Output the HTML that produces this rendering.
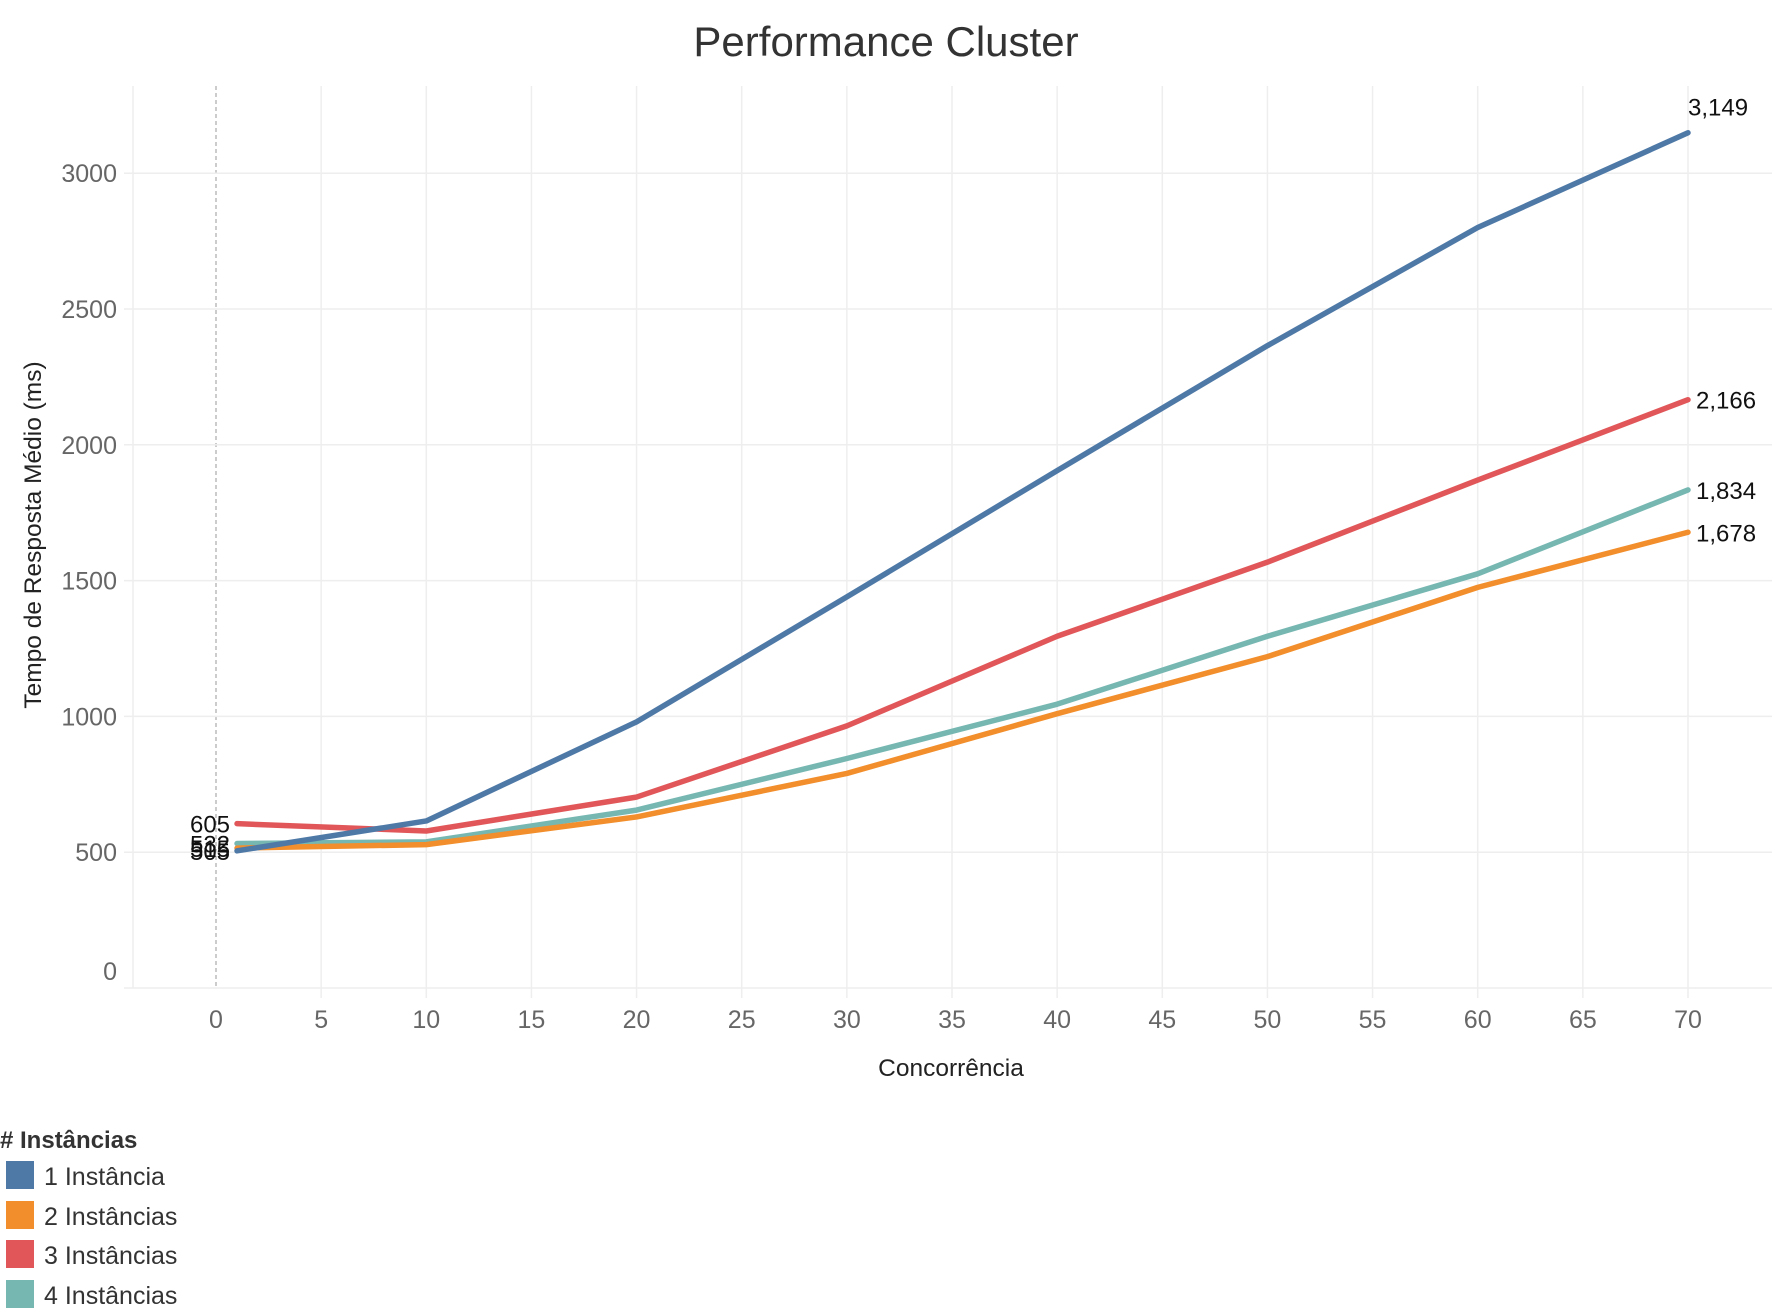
<!DOCTYPE html>
<html><head><meta charset="utf-8"><style>
body{margin:0;background:#fff;font-family:"Liberation Sans","DejaVu Sans",sans-serif}
svg{display:block}
</style></head><body>
<svg id="c" width="1772" height="1314" viewBox="0 0 1772 1314">
<text x="886" y="56" text-anchor="middle" font-size="42" fill="#333">Performance Cluster</text>
<g id="grid"></g>
<g id="series"></g>
<g id="labels"></g>
<text transform="translate(41,535) rotate(-90)" text-anchor="middle" font-size="24.5" fill="#222">Tempo de Resposta Médio (ms)</text>
<text x="951" y="1076" text-anchor="middle" font-size="24.5" fill="#222">Concorrência</text>
<g>
<text x="0" y="1148" font-size="24" font-weight="bold" fill="#333"># Instâncias</text>
<g><rect x="6" y="1161" width="28" height="28" fill="#4e79a7"/><text x="44" y="1185" font-size="25" fill="#333">1 Instância</text></g>
<g><rect x="6" y="1201" width="28" height="28" fill="#f28e2b"/><text x="44" y="1225" font-size="25" fill="#333">2 Instâncias</text></g>
<g><rect x="6" y="1240" width="28" height="28" fill="#e15759"/><text x="44" y="1264" font-size="25" fill="#333">3 Instâncias</text></g>
<g><rect x="6" y="1280" width="28" height="28" fill="#76b7b2"/><text x="44" y="1304" font-size="25" fill="#333">4 Instâncias</text></g>
</g>
</svg>
<script>
const xs = [1,10,20,30,40,50,60,70];
const s1 = [505,615,980,1440,1905,2365,2800,3149];
const s2 = [515,528,630,790,1010,1220,1475,1678];
const s3 = [605,578,703,965,1295,1568,1870,2166];
const s4 = [532,538,655,845,1045,1295,1525,1834];
const xTicks = [0,5,10,15,20,25,30,35,40,45,50,55,60,65,70];
const yTicks = [0,500,1000,1500,2000,2500,3000];
const NS="http://www.w3.org/2000/svg";
const X=v=>216+(1688-216)*v/70;
const Y=v=>988-v*(135.8/500);
function mk(t,a,p){const e=document.createElementNS(NS,t);for(const k in a)e.setAttribute(k,a[k]);p.appendChild(e);return e;}
const g=document.getElementById('grid');
const gl=mk('line',{x1:133,x2:133,y1:86,y2:988,stroke:'#eee','stroke-width':1.5},g);


xTicks.forEach(t=>{
 if(t>0){const l=mk('line',{x1:X(t),x2:X(t),y1:86,y2:998,stroke:'#eee','stroke-width':1.5},g);
 
 }
 const tx=mk('text',{x:X(t),y:1028,'text-anchor':'middle','font-size':25,fill:'#666'},g);tx.textContent=t;
 
 
});
const dz=mk('line',{x1:X(0),x2:X(0),y1:86,y2:988,stroke:'#aaa','stroke-width':1.2,'stroke-dasharray':'4,3'},g);


yTicks.forEach(t=>{
 const l=mk('line',{x1:124,x2:1772,y1:Y(t),y2:Y(t),stroke:'#eee','stroke-width':1.5},g);
 
 
 const tx=mk('text',{x:117,y:t===0?Y(t)-8:Y(t)+9,'text-anchor':'end','font-size':25,fill:'#666'},g);tx.textContent=t;
 
 
});
const sg=document.getElementById('series'),lg=document.getElementById('labels');
const series=[[s4,'#76b7b2','4'],[s2,'#f28e2b','2'],[s3,'#e15759','3'],[s1,'#4e79a7','1']];
const fmt=v=>v.toLocaleString('en-US');
series.forEach(([d,c,n])=>{
 const p=mk('polyline',{points:d.map((v,i)=>X(xs[i])+','+Y(v)).join(' '),fill:'none',stroke:c,'stroke-width':5.5,'stroke-linejoin':'round','stroke-linecap':'round'},sg);
 
 
 const a=mk('text',{x:X(xs[0])-7,y:Y(d[0])+9,'text-anchor':'end','font-size':24,fill:'#111'},lg);a.textContent=fmt(d[0]);
 
 
 const last=d[d.length-1];const top=n==='1';
 const b=mk('text',{x:top?X(70):X(70)+8,y:top?Y(last)-17:Y(last)+9,'font-size':24,fill:'#111'},lg);b.textContent=fmt(last);
 
 
});
</script>
</body></html>
